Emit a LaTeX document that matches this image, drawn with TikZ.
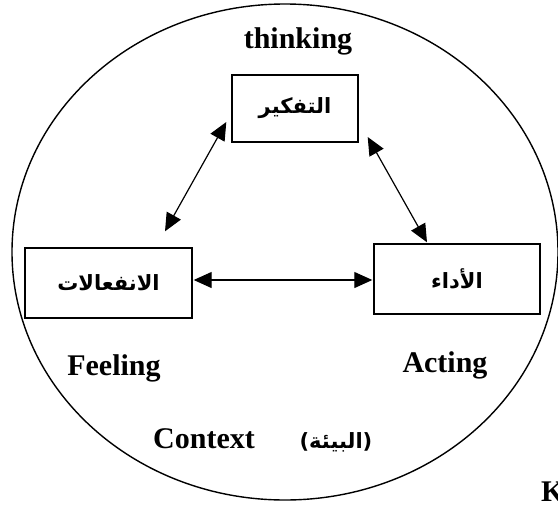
\documentclass[tikz,border=0pt]{standalone}
\usepackage{fontspec}
\setmainfont{Liberation Serif}
\newfontfamily\arabicfont[Script=Arabic]{DejaVu Sans}
\TeXXeTstate=1
\usetikzlibrary{arrows.meta,calc}
\begin{document}
\begin{tikzpicture}[x=1pt,y=-1pt,
  boxnode/.style={draw,line width=1.4pt,inner sep=0pt,font=\arabicfont\bfseries\fontsize{21}{24}\selectfont},
  lbl/.style={font=\bfseries\fontsize{30}{34}\selectfont,inner sep=0pt},
  conn/.style={line width=1.2pt,{Triangle[length=18pt,width=16pt]}-{Triangle[length=18pt,width=16pt]}}]
\useasboundingbox (0,0) rectangle (558,507);
\draw[line width=1.4pt] (285,252) ellipse [x radius=273, y radius=248];
\node[boxnode,minimum width=126pt,minimum height=67pt] (think) at (295,108.5) {\beginR التفكير\endR};
\node[boxnode,minimum width=167pt,minimum height=70pt] (feel) at (108.5,283) {\beginR الانفعالات\endR};
\node[boxnode,minimum width=166pt,minimum height=70pt] (act) at (457,279) {\beginR الأداء\endR};
\coordinate (t1) at ($(think.west)+(-5,13.5)$);
\coordinate (f1) at ($(feel.north)+(56.5,-16)$);
\coordinate (t2) at ($(think.east)+(9,28.5)$);
\coordinate (a1) at ($(act.north)+(-30,-1)$);
\coordinate (f2) at ($(feel.east)+(1,-3)$);
\coordinate (a2) at ($(act.west)+(-1,1)$);
\draw[conn] (t1) -- (f1);
\draw[conn] (t2) -- (a1);
\draw[conn] (f2) -- (a2);
\node[lbl,anchor=base] (thinking) at (298,48) {thinking};
\node[lbl,anchor=base] (feeling) at (114,375) {Feeling};
\node[lbl,anchor=base] (acting) at (445,372) {Acting};
\node[lbl,anchor=base] (context) at (204,448) {Context};
\node[font=\arabicfont\bfseries\fontsize{21}{24}\selectfont,inner sep=0pt,anchor=base] (env) at (336,448) {\beginR(البيئة)\endR};
\node[lbl,anchor=north west] (k) at (541,482) {K};
\end{tikzpicture}
\end{document}
